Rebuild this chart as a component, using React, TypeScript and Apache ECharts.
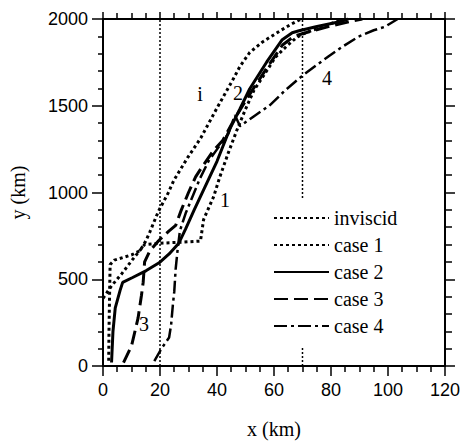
import React, { useEffect, useRef } from "react";
import * as echarts from "echarts";

type Pt = [number, number];

const seriesNames = ["inviscid", "case 1", "case 2", "case 3", "case 4"];

const inviscid: Pt[] = [
  [2, 30], [2.1, 200], [2.3, 400], [2.5, 585], [4, 610], [7, 625], [10, 640], [13, 665],
  [15, 720], [16.5, 775], [19.4, 890], [22.8, 995], [24.9, 1071], [29.7, 1201], [34.3, 1314],
  [40.1, 1490], [45.7, 1654], [48.1, 1728], [51.5, 1807], [56, 1868], [61.5, 1925], [66, 1970], [69.5, 2000],
];

const case1: Pt[] = [
  [0, 390], [3.1, 464], [6.6, 532], [10, 606], [12.3, 653], [14.6, 700], [20, 708], [27, 713],
  [34.2, 720], [35.3, 844], [38.8, 975], [41, 1090], [44, 1230], [47, 1360], [50, 1480],
  [53, 1590], [57.4, 1700], [60.5, 1780], [64.3, 1841], [68, 1895], [71.2, 1921], [76, 1950],
  [81, 1980], [86, 2000],
];

const case2: Pt[] = [
  [3, 20], [3.5, 200], [4.3, 335], [6, 436], [6.9, 482], [10.4, 510], [15.2, 550], [19.7, 595],
  [23.2, 646], [26.6, 708], [29, 790], [32, 900], [36, 1040], [40, 1180], [44.6, 1370],
  [48, 1480], [51.5, 1598], [57.4, 1751], [62.9, 1881], [66.4, 1921], [68.8, 1932],
  [74.7, 1955], [82.6, 1983], [86, 2000],
];

const case3: Pt[] = [
  [7.2, 20], [10, 115], [12.3, 276], [13.5, 408], [14.1, 483], [14.6, 600], [16.4, 663],
  [19.5, 722], [23, 776], [25.5, 810], [27.5, 900], [30, 1000], [32.5, 1090], [34.2, 1133],
  [38.7, 1241], [42, 1300], [46, 1420], [52, 1580], [58, 1730], [63, 1850], [67, 1900],
  [72, 1925], [80, 1960], [88, 1990], [91, 2000],
];

const case4: Pt[] = [
  [18, 28], [20.5, 100], [23.2, 164], [23.9, 238], [24.5, 350], [25, 427], [25.5, 560],
  [26.2, 673], [27, 780], [29, 880], [31.5, 980], [34, 1080], [37, 1180], [40.5, 1260],
  [44, 1340], [46.3, 1445], [48.1, 1382], [53, 1440], [58.4, 1501], [64, 1590], [69.8, 1671],
  [75, 1735], [79.2, 1785], [84, 1840], [89.6, 1898], [95, 1935], [98.9, 1955], [103.4, 2000],
];

const refLines = [20, 70];

const xRange = [0, 120];
const yRange = [0, 2000];

const curveLabels = [
  { text: "i", x: 200, y: 94 },
  { text: "2", x: 238, y: 93 },
  { text: "4", x: 327, y: 78 },
  { text: "1", x: 225, y: 200 },
  { text: "3", x: 144, y: 324 },
];

const serif = "Liberation Serif";
const sans = "Liberation Sans";

export default function App() {
  const ref = useRef<HTMLDivElement>(null);
  useEffect(() => {
    if (!ref.current) return;
    const chart = echarts.init(ref.current, undefined, { renderer: "svg" });

    const axisLine = { show: true, onZero: false, lineStyle: { color: "#000", width: 2 } };
    const tickStyle = { color: "#000", width: 1.5 };

    const curveData = [inviscid, case1, case2, case3, case4];
    const styles: any[] = [
      { type: [3, 3], width: 3 },
      { type: [3, 3], width: 3 },
      { type: "solid", width: 3 },
      { type: [14, 6], width: 3 },
      { type: [13, 4, 3, 4], width: 2.5 },
    ];

    const series: any[] = curveData.map((d, i) => ({
      name: seriesNames[i],
      type: "line",
      data: d,
      symbol: "none",
      showSymbol: false,
      lineStyle: { color: "#000", ...styles[i] },
      itemStyle: { color: "#000" },
      z: 3,
    }));

    refLines.forEach((v, i) => {
      series.push({
        name: "ref" + i,
        type: "line",
        data: [[v, yRange[0]], [v, yRange[1]]],
        symbol: "none",
        showSymbol: false,
        silent: true,
        lineStyle: { color: "#000", width: 1.5, type: [2, 2] },
        z: 1,
      });
    });

    const plain = (v: number) => String(v);

    chart.setOption({
      animation: false,
      backgroundColor: "#fff",
      grid: { left: 101, right: 16, top: 19, bottom: 72, containLabel: false },
      legend: {
        data: seriesNames,
        orient: "vertical",
        left: 268,
        top: 198,
        padding: [10, 6, 10, 5],
        itemGap: 7,
        itemWidth: 55,
        itemHeight: 14,
        itemStyle: { opacity: 0 },
        backgroundColor: "#fff",
        textStyle: { fontFamily: serif, fontSize: 20, color: "#000", lineHeight: 20 },
        z: 10,
      },
      xAxis: [
        {
          type: "value",
          min: xRange[0],
          max: xRange[1],
          interval: 20,
          position: "bottom",
          axisLine,
          axisTick: { show: true, inside: false, length: 10, lineStyle: tickStyle },
          minorTick: { show: true, splitNumber: 4, length: 6, lineStyle: tickStyle },
          splitLine: { show: false },
          axisLabel: { fontFamily: sans, fontSize: 18, color: "#000", margin: 15, formatter: plain },
          name: "x (km)",
          nameLocation: "middle",
          nameGap: 53,
          nameTextStyle: { fontFamily: serif, fontSize: 20, color: "#000" },
        },
        {
          type: "value",
          min: xRange[0],
          max: xRange[1],
          interval: 20,
          position: "top",
          axisLine,
          axisTick: { show: true, inside: false, length: 7, lineStyle: tickStyle },
          minorTick: { show: true, splitNumber: 4, length: 6, lineStyle: tickStyle },
          splitLine: { show: false },
          axisLabel: { show: false },
        },
      ],
      yAxis: [
        {
          type: "value",
          min: yRange[0],
          max: yRange[1],
          interval: 500,
          position: "left",
          axisLine,
          axisTick: { show: true, inside: false, length: 11, lineStyle: tickStyle },
          minorTick: { show: true, splitNumber: 5, length: 5, lineStyle: tickStyle },
          splitLine: { show: false },
          axisLabel: { fontFamily: sans, fontSize: 18, color: "#000", margin: 15, formatter: plain },
          name: "y (km)",
          nameLocation: "middle",
          nameGap: 75,
          nameRotate: 90,
          nameTextStyle: { fontFamily: serif, fontSize: 20, color: "#000" },
        },
        {
          type: "value",
          min: yRange[0],
          max: yRange[1],
          interval: 500,
          position: "right",
          axisLine,
          axisTick: { show: true, inside: false, length: 10, lineStyle: tickStyle },
          minorTick: { show: true, splitNumber: 5, length: 7, lineStyle: tickStyle },
          splitLine: { show: false },
          axisLabel: { show: false },
        },
      ],
      graphic: curveLabels.map((l) => ({
        type: "text",
        x: l.x,
        y: l.y,
        z: 20,
        style: {
          text: l.text,
          fontFamily: serif,
          fontSize: 20,
          fill: "#000",
          align: "center",
          verticalAlign: "middle",
        },
      })),
      series,
    });
    return () => chart.dispose();
  }, []);
  return (
    <div
      ref={ref}
      style={{ position: "fixed", left: 0, top: 0, width: 463, height: 444, background: "#fff" }}
    />
  );
}
